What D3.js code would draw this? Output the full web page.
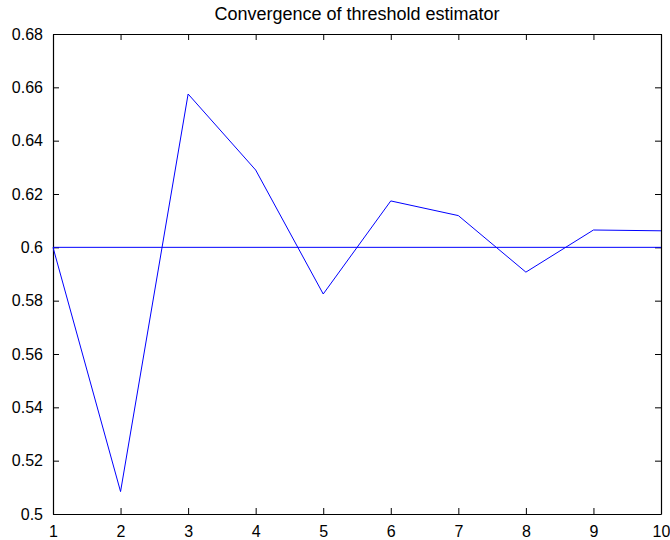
<!DOCTYPE html>
<html>
<head>
<meta charset="utf-8">
<script src="https://cdn.jsdelivr.net/npm/d3@7"></script>
<style>
  body { margin: 0; background: #fff; }
  text { font-family: "Liberation Sans", Arial, sans-serif; }
</style>
</head>
<body>
<div id="chart"></div>
<script>
var iterations = [1, 2, 3, 4, 5, 6, 7, 8, 9, 10];
var estimates = [0.600, 0.5084, 0.6575, 0.629, 0.5825, 0.6174, 0.6119, 0.5907, 0.6065, 0.6062];
var trueValue = 0.6;
var xTicks = [1, 2, 3, 4, 5, 6, 7, 8, 9, 10];
var yTicks = [0.5, 0.52, 0.54, 0.56, 0.58, 0.6, 0.62, 0.64, 0.66, 0.68];

var svgWidth = 670, svgHeight = 540;
var margin = { top: 34, right: 9, bottom: 26, left: 53 };
var chartWidth = svgWidth - margin.left - margin.right;
var chartHeight = svgHeight - margin.top - margin.bottom;

var svg = d3.select("#chart")
    .append("svg")
    .attr("width", svgWidth)
    .attr("height", svgHeight);

var chartGroup = svg.append("g")
    .attr("transform", `translate(${margin.left}, ${margin.top})`);

var x = d3.scaleLinear().domain([1, 10]).range([0, chartWidth]);
var y = d3.scaleLinear().domain([0.5, 0.68]).range([chartHeight, 0]);

var fmt = function(d) { return String(+d.toFixed(2)); };

// axes with inward ticks, MATLAB style box
var bottomAxis = d3.axisBottom(x).tickValues(xTicks).tickSizeInner(-6).tickSizeOuter(0).tickPadding(12).tickFormat(fmt);
var leftAxis = d3.axisLeft(y).tickValues(yTicks).tickSizeInner(-6).tickSizeOuter(0).tickPadding(10).tickFormat(fmt);
var topAxis = d3.axisTop(x).tickValues(xTicks).tickSizeInner(-6).tickSizeOuter(0).tickFormat("");
var rightAxis = d3.axisRight(y).tickValues(yTicks).tickSizeInner(-6).tickSizeOuter(0).tickFormat("");

var gx = chartGroup.append("g").attr("transform", `translate(0, ${chartHeight})`).call(bottomAxis);
var gy = chartGroup.append("g").call(leftAxis);
var gt = chartGroup.append("g").call(topAxis);
var gr = chartGroup.append("g").attr("transform", `translate(${chartWidth}, 0)`).call(rightAxis);

[gx, gy, gt, gr].forEach(function(g) {
    g.selectAll("path").attr("stroke", "#000").attr("stroke-width", 1.2);
    g.selectAll("line").attr("stroke", "#000");
    g.selectAll("text").attr("fill", "#000").attr("font-size", "16px");
});

// threshold line
chartGroup.append("line")
    .attr("x1", x(1)).attr("x2", x(10))
    .attr("y1", y(trueValue)).attr("y2", y(trueValue))
    .attr("stroke", "#0000ff").attr("stroke-width", 1);

var line = d3.line()
    .x(function(d, i) { return x(iterations[i]); })
    .y(function(d) { return y(d); });

chartGroup.append("path")
    .datum(estimates)
    .attr("d", line)
    .attr("fill", "none")
    .attr("stroke", "#0000ff")
    .attr("stroke-width", 1);

svg.append("text")
    .attr("x", margin.left + chartWidth / 2)
    .attr("y", 20)
    .attr("text-anchor", "middle")
    .attr("font-size", "18px")
    .text("Convergence of threshold estimator");
</script>
</body>
</html>
